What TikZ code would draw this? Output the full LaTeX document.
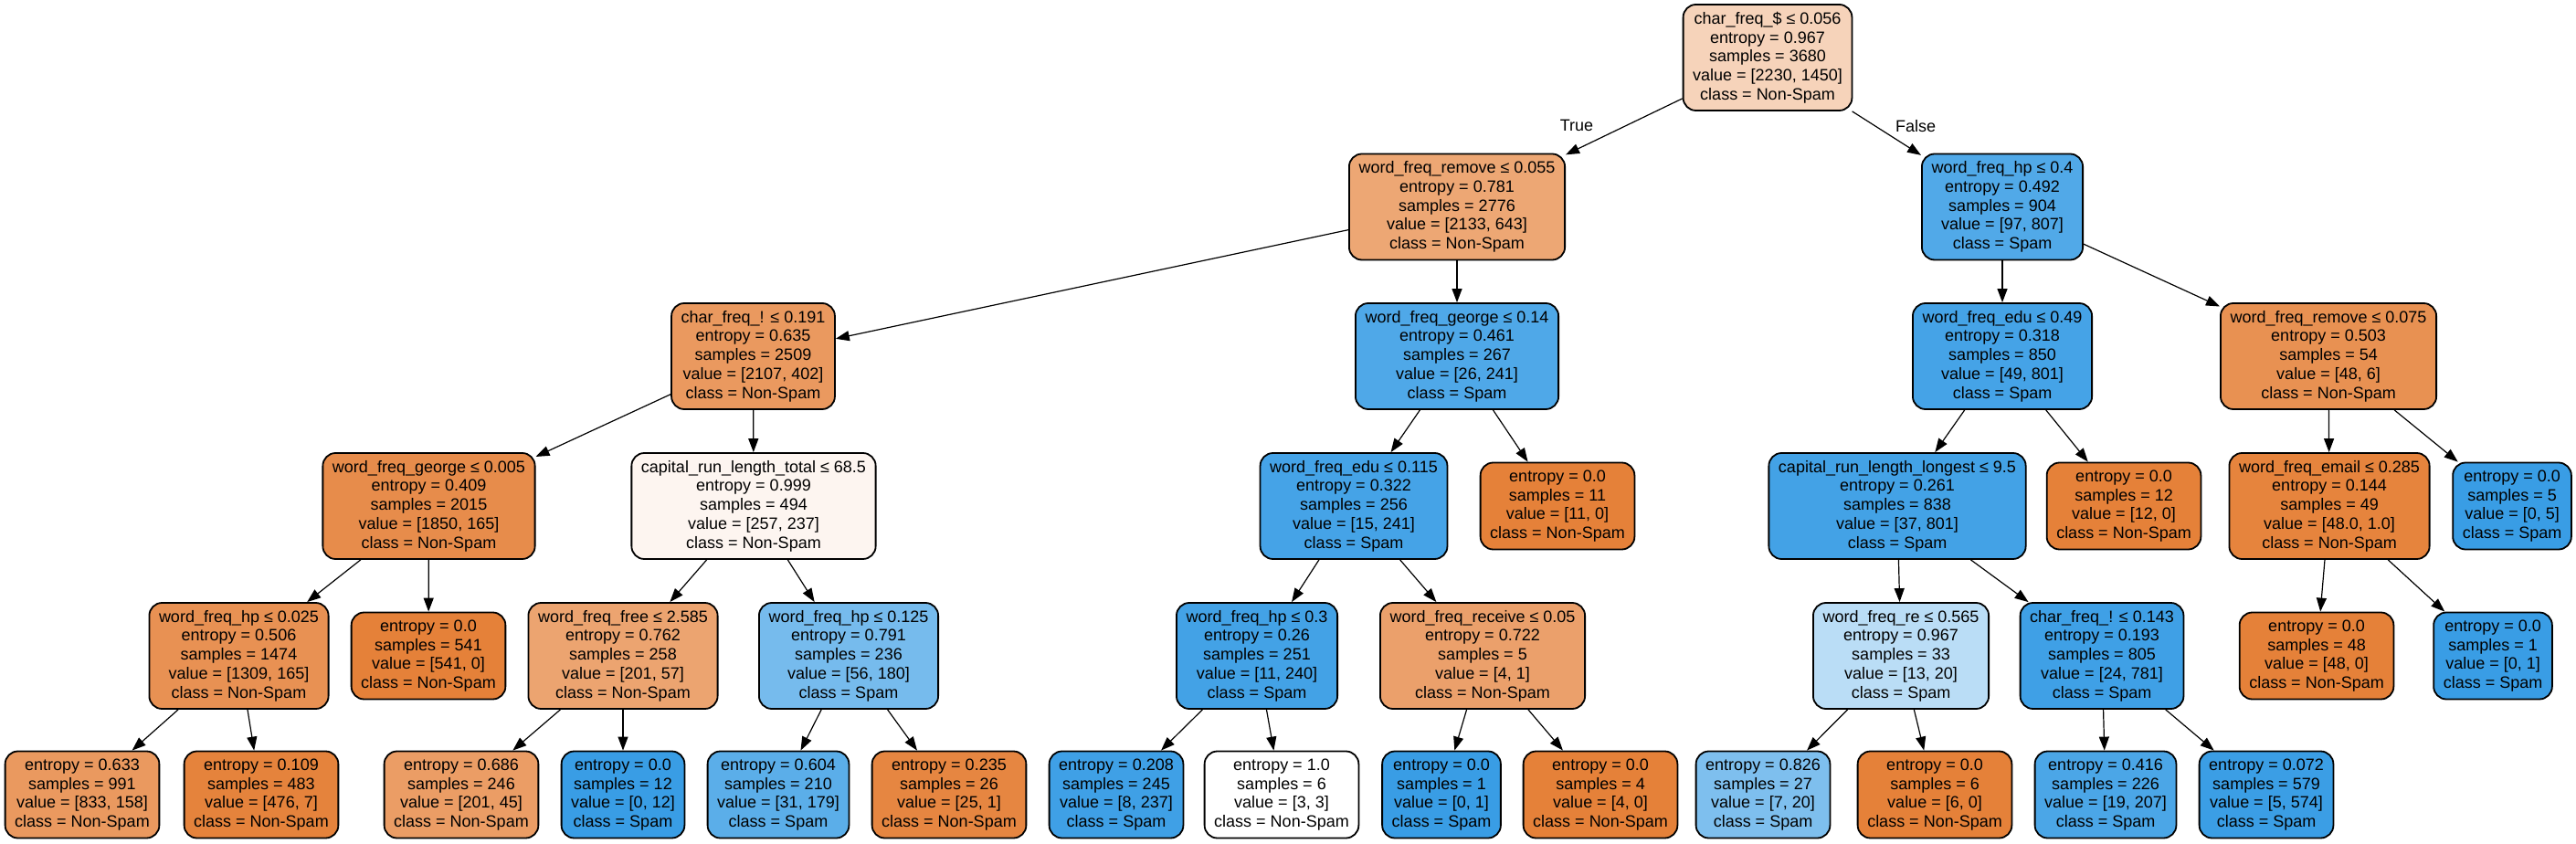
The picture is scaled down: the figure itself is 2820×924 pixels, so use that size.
\documentclass[tikz,border=0pt]{standalone}
\usepackage{fontspec}
\setmainfont{Liberation Sans}
\usetikzlibrary{arrows.meta}
\definecolor{ob}{RGB}{229,129,57}
\definecolor{bb}{RGB}{57,157,229}
\newcommand{\nodefont}{\fontsize{9}{10.35}\selectfont}
\begin{document}
\begin{tikzpicture}[x=0.5pt,y=-0.5pt,
  box/.style={draw=black, line width=0.9pt, rounded corners=7pt, align=center, inner xsep=5.3pt, inner ysep=3pt, font=\nodefont},
  tnode/.style={box, minimum height=58pt},
  tleaf/.style={box, minimum height=47.5pt},
  arr/.style={-{Triangle[length=7.5pt,width=5.5pt]}, line width=0.6pt},
  elab/.style={font=\nodefont, inner sep=0pt}]
\useasboundingbox (0,0) rectangle (2820,924);
% root
\node[tnode, fill=ob!35] (n0) at (1935,63) {char\_freq\_\$ ≤ 0.056\\entropy = 0.967\\samples = 3680\\value = [2230, 1450]\\class = Non-Spam};
% level 1
\node[tnode, fill=ob!70] (n1) at (1595,226.5) {word\_freq\_remove ≤ 0.055\\entropy = 0.781\\samples = 2776\\value = [2133, 643]\\class = Non-Spam};
\node[tnode, fill=bb!88] (n2) at (2192,226.5) {word\_freq\_hp ≤ 0.4\\entropy = 0.492\\samples = 904\\value = [97, 807]\\class = Spam};
% level 2
\node[tnode, fill=ob!81] (n3) at (824.5,390) {char\_freq\_! ≤ 0.191\\entropy = 0.635\\samples = 2509\\value = [2107, 402]\\class = Non-Spam};
\node[tnode, fill=bb!89] (n4) at (1595,390) {word\_freq\_george ≤ 0.14\\entropy = 0.461\\samples = 267\\value = [26, 241]\\class = Spam};
\node[tnode, fill=bb!94] (n5) at (2192,390) {word\_freq\_edu ≤ 0.49\\entropy = 0.318\\samples = 850\\value = [49, 801]\\class = Spam};
\node[tnode, fill=ob!87.5] (n6) at (2549,390) {word\_freq\_remove ≤ 0.075\\entropy = 0.503\\samples = 54\\value = [48, 6]\\class = Non-Spam};
% level 3
\node[tnode, fill=ob!91] (n7) at (469.5,554) {word\_freq\_george ≤ 0.005\\entropy = 0.409\\samples = 2015\\value = [1850, 165]\\class = Non-Spam};
\node[tnode, fill=ob!7.8] (n8) at (825,554) {capital\_run\_length\_total ≤ 68.5\\entropy = 0.999\\samples = 494\\value = [257, 237]\\class = Non-Spam};
\node[tnode, fill=bb!94] (n9) at (1482,554) {word\_freq\_edu ≤ 0.115\\entropy = 0.322\\samples = 256\\value = [15, 241]\\class = Spam};
\node[tleaf, fill=ob] (n10) at (1705,554) {entropy = 0.0\\samples = 11\\value = [11, 0]\\class = Non-Spam};
\node[tnode, fill=bb!95] (n11) at (2077,554) {capital\_run\_length\_longest ≤ 9.5\\entropy = 0.261\\samples = 838\\value = [37, 801]\\class = Spam};
\node[tleaf, fill=ob] (n12) at (2325,554) {entropy = 0.0\\samples = 12\\value = [12, 0]\\class = Non-Spam};
\node[tnode, fill=ob!98] (n13) at (2550,554) {word\_freq\_email ≤ 0.285\\entropy = 0.144\\samples = 49\\value = [48.0, 1.0]\\class = Non-Spam};
\node[tleaf, fill=bb] (n14) at (2750,554) {entropy = 0.0\\samples = 5\\value = [0, 5]\\class = Spam};
% level 4
\node[tnode, fill=ob!87] (n15) at (261.5,718) {word\_freq\_hp ≤ 0.025\\entropy = 0.506\\samples = 1474\\value = [1309, 165]\\class = Non-Spam};
\node[tleaf, fill=ob] (n16) at (469,718) {entropy = 0.0\\samples = 541\\value = [541, 0]\\class = Non-Spam};
\node[tnode, fill=ob!72] (n17) at (682,718) {word\_freq\_free ≤ 2.585\\entropy = 0.762\\samples = 258\\value = [201, 57]\\class = Non-Spam};
\node[tnode, fill=bb!69] (n18) at (929,718) {word\_freq\_hp ≤ 0.125\\entropy = 0.791\\samples = 236\\value = [56, 180]\\class = Spam};
\node[tnode, fill=bb!95] (n19) at (1376,718) {word\_freq\_hp ≤ 0.3\\entropy = 0.26\\samples = 251\\value = [11, 240]\\class = Spam};
\node[tnode, fill=ob!75] (n20) at (1623,718) {word\_freq\_receive ≤ 0.05\\entropy = 0.722\\samples = 5\\value = [4, 1]\\class = Non-Spam};
\node[tnode, fill=bb!35] (n21) at (2081,718) {word\_freq\_re ≤ 0.565\\entropy = 0.967\\samples = 33\\value = [13, 20]\\class = Spam};
\node[tnode, fill=bb!97] (n22) at (2301,718) {char\_freq\_! ≤ 0.143\\entropy = 0.193\\samples = 805\\value = [24, 781]\\class = Spam};
\node[tleaf, fill=ob] (n23) at (2536,718) {entropy = 0.0\\samples = 48\\value = [48, 0]\\class = Non-Spam};
\node[tleaf, fill=bb] (n24) at (2729,718) {entropy = 0.0\\samples = 1\\value = [0, 1]\\class = Spam};
% level 5
\node[tleaf, fill=ob!81] (n25) at (90,870) {entropy = 0.633\\samples = 991\\value = [833, 158]\\class = Non-Spam};
\node[tleaf, fill=ob!98.5] (n26) at (286,870) {entropy = 0.109\\samples = 483\\value = [476, 7]\\class = Non-Spam};
\node[tleaf, fill=ob!78] (n27) at (505,870) {entropy = 0.686\\samples = 246\\value = [201, 45]\\class = Non-Spam};
\node[tleaf, fill=bb] (n28) at (682,870) {entropy = 0.0\\samples = 12\\value = [0, 12]\\class = Spam};
\node[tleaf, fill=bb!83] (n29) at (852,870) {entropy = 0.604\\samples = 210\\value = [31, 179]\\class = Spam};
\node[tleaf, fill=ob!96] (n30) at (1039,870) {entropy = 0.235\\samples = 26\\value = [25, 1]\\class = Non-Spam};
\node[tleaf, fill=bb!97] (n31) at (1222,870) {entropy = 0.208\\samples = 245\\value = [8, 237]\\class = Spam};
\node[tleaf, fill=white] (n32) at (1403,870) {entropy = 1.0\\samples = 6\\value = [3, 3]\\class = Non-Spam};
\node[tleaf, fill=bb] (n33) at (1578,870) {entropy = 0.0\\samples = 1\\value = [0, 1]\\class = Spam};
\node[tleaf, fill=ob] (n34) at (1752,870) {entropy = 0.0\\samples = 4\\value = [4, 0]\\class = Non-Spam};
\node[tleaf, fill=bb!65] (n35) at (1930,870) {entropy = 0.826\\samples = 27\\value = [7, 20]\\class = Spam};
\node[tleaf, fill=ob] (n36) at (2118,870) {entropy = 0.0\\samples = 6\\value = [6, 0]\\class = Non-Spam};
\node[tleaf, fill=bb!91] (n37) at (2305,870) {entropy = 0.416\\samples = 226\\value = [19, 207]\\class = Spam};
\node[tleaf, fill=bb!99] (n38) at (2481,870) {entropy = 0.072\\samples = 579\\value = [5, 574]\\class = Spam};
% edges
\draw[arr] (n0) -- (n1);
\draw[arr] (n0) -- (n2);
\draw[arr] (n1) -- (n3);
\draw[arr] (n1) -- (n4);
\draw[arr] (n2) -- (n5);
\draw[arr] (n2) -- (n6);
\draw[arr] (n3) -- (n7);
\draw[arr] (n3) -- (n8);
\draw[arr] (n4) -- (n9);
\draw[arr] (n4) -- (n10);
\draw[arr] (n5) -- (n11);
\draw[arr] (n5) -- (n12);
\draw[arr] (n6) -- (n13);
\draw[arr] (n6) -- (n14);
\draw[arr] (n7) -- (n15);
\draw[arr] (n7) -- (n16);
\draw[arr] (n8) -- (n17);
\draw[arr] (n8) -- (n18);
\draw[arr] (n9) -- (n19);
\draw[arr] (n9) -- (n20);
\draw[arr] (n11) -- (n21);
\draw[arr] (n11) -- (n22);
\draw[arr] (n13) -- (n23);
\draw[arr] (n13) -- (n24);
\draw[arr] (n15) -- (n25);
\draw[arr] (n15) -- (n26);
\draw[arr] (n17) -- (n27);
\draw[arr] (n17) -- (n28);
\draw[arr] (n18) -- (n29);
\draw[arr] (n18) -- (n30);
\draw[arr] (n19) -- (n31);
\draw[arr] (n19) -- (n32);
\draw[arr] (n20) -- (n33);
\draw[arr] (n20) -- (n34);
\draw[arr] (n21) -- (n35);
\draw[arr] (n21) -- (n36);
\draw[arr] (n22) -- (n37);
\draw[arr] (n22) -- (n38);
\node[elab] (ltrue) at (1726,137) {True};
\node[elab] (lfalse) at (2097,138) {False};
\end{tikzpicture}
\end{document}
